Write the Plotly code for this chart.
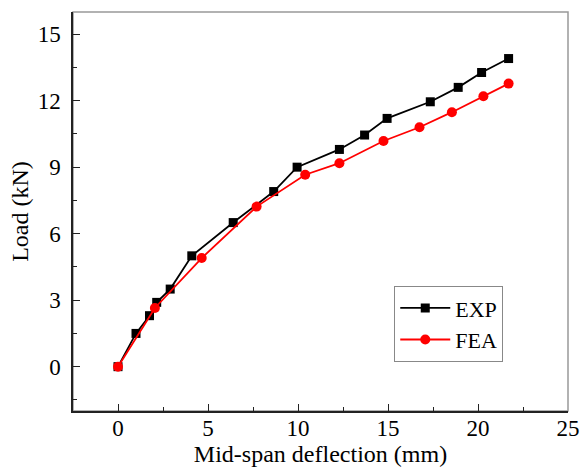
import plotly.graph_objects as go

# data
exp_x = [0, 1.0, 1.75, 2.15, 2.9, 4.1, 6.4, 8.65, 9.95, 12.3, 13.7, 14.95, 17.35, 18.9, 20.2, 21.7]
exp_y = [0, 1.5, 2.3, 2.9, 3.5, 5.0, 6.5, 7.9, 9.0, 9.8, 10.45, 11.2, 11.95, 12.6, 13.27, 13.9]

fea_x = [0, 2.05, 4.65, 7.7, 10.4, 12.3, 14.75, 16.75, 18.55, 20.3, 21.7]
fea_y = [0, 2.65, 4.9, 7.22, 8.66, 9.18, 10.18, 10.8, 11.48, 12.2, 12.77]

x_ticks = [0, 5, 10, 15, 20, 25]
y_ticks = [0, 3, 6, 9, 12, 15]

font_name = "Liberation Serif"

fig = go.Figure()

fig.add_scatter(
    name="EXP", x=exp_x, y=exp_y, mode="lines+markers",
    line=dict(color="black", width=1.8),
    marker=dict(symbol="square", size=9, color="black")
)
fig.add_scatter(
    name="FEA", x=fea_x, y=fea_y, mode="lines+markers",
    line=dict(color="#ff0000", width=1.8),
    marker=dict(symbol="circle", size=10, color="#ff0000")
)

axis_style = dict(
    showgrid=False, zeroline=False, automargin=False,
    showline=True, linecolor="#222", linewidth=1.5,
    ticks="inside", ticklen=7, tickwidth=1.2, tickcolor="#222",
    tickfont=dict(family=font_name, size=23, color="black"),
    minor=dict(ticks="inside", ticklen=4, tickwidth=1.2, tickcolor="#222"),
)

fig.update_xaxes(
    **axis_style,
    range=[-2.5, 25], tickvals=x_ticks, minor_dtick=2.5, minor_tick0=0,
    ticklabelstandoff=-4,
    title=dict(text="Mid-span deflection (mm)", font=dict(family=font_name, size=24, color="black"), standoff=5)
)
fig.update_yaxes(
    **axis_style,
    range=[-2, 16], tickvals=y_ticks, minor_dtick=1.5, minor_tick0=0,
    ticklabelstandoff=6,
    title=dict(text="Load (kN)", font=dict(family=font_name, size=24, color="black"), standoff=2)
)

# grey frame around plot area
fig.add_shape(type="rect", xref="paper", yref="paper", x0=0, y0=0, x1=1, y1=1,
              line=dict(color="#999", width=1.5), layer="below")

fig.update_layout(
    width=580, height=470,
    margin=dict(l=73, r=12, t=12, b=59),
    paper_bgcolor="white", plot_bgcolor="white",
    font=dict(family=font_name, color="black"),
    legend=dict(
        x=0.649, y=0.313, xanchor="left", yanchor="top",
        bordercolor="#888", borderwidth=1, bgcolor="white",
        font=dict(family=font_name, size=22, color="black"),
        itemwidth=50, tracegroupgap=0
    )
)

# drop the page's default body margin so the figure sits at the window corner
fig.write_html("out.html", config={"displayModeBar": False},
               post_script="document.body.style.margin='0';")
